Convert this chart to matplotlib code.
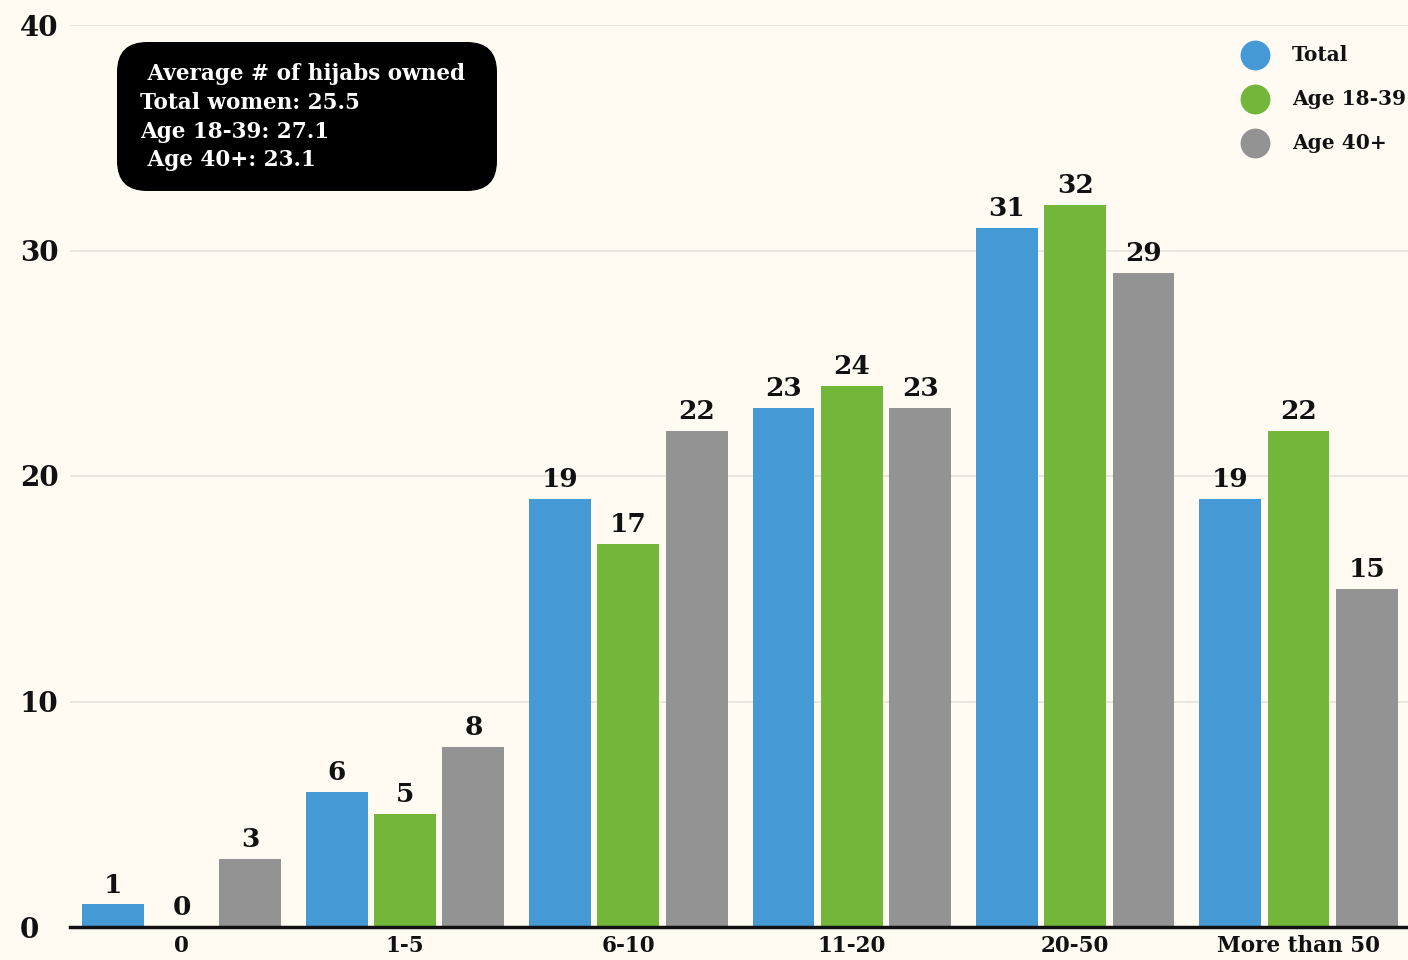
import matplotlib
matplotlib.use("Agg")
import matplotlib.pyplot as plt
from matplotlib.patches import FancyBboxPatch
from matplotlib.lines import Line2D
from matplotlib.transforms import IdentityTransform
import numpy as np

categories = ["0", "1-5", "6-10", "11-20", "20-50", "More than 50"]
series_names = ["Total", "Age 18-39", "Age 40+"]
total = [1, 6, 19, 23, 31, 19]
age_18_39 = [0, 5, 17, 24, 32, 22]
age_40_plus = [3, 8, 22, 23, 29, 15]
yticks = [0, 10, 20, 30, 40]
summary_lines = [" Average # of hijabs owned", "Total women: 25.5",
                 "Age 18-39: 27.1", " Age 40+: 23.1"]

colors = ["#4599d4", "#72b73a", "#939393"]
bg = "#fffaf2"
ink = "#111111"
FONT = "DejaVu Serif"

W, H, DPI = 1408, 960, 100
fig = plt.figure(figsize=(W / DPI, H / DPI), dpi=DPI, facecolor=bg)
ax = fig.add_axes([70 / W, 33 / H, 1 - 70 / W, (927 - 25) / H])
ax.set_facecolor(bg)

x = np.arange(len(categories))
width = 0.277
step = 0.306
for k, vals in enumerate([total, age_18_39, age_40_plus]):
    pos = x + (k - 1) * step
    ax.bar(pos, vals, width=width, color=colors[k], zorder=3)
    for xp, v in zip(pos, vals):
        ax.annotate(f"{v}", (xp, v), xytext=(0, 5), textcoords="offset points",
                    ha="center", va="bottom", fontsize=19, fontweight="bold",
                    family=FONT, color=ink, zorder=4)

ax.set_xlim(-0.5, 5.49)
ax.set_ylim(0, 40)
ax.set_yticks(yticks)
ax.grid(axis="y", color="#e4e2dc", linewidth=1.2, zorder=0)
ax.set_axisbelow(True)
for s in ["top", "right", "left"]:
    ax.spines[s].set_visible(False)
ax.spines["bottom"].set_color(ink)
ax.spines["bottom"].set_linewidth(2.5)
ax.spines["bottom"].set_zorder(5)
ax.tick_params(axis="both", length=0)
ax.set_yticklabels([str(t) for t in yticks], fontsize=20, fontweight="bold",
                   family=FONT, color=ink)
for lab in ax.get_yticklabels():
    lab.set_horizontalalignment("left")
ax.tick_params(axis="y", pad=36)
ax.set_xticks(x)
ax.set_xticklabels(categories, fontsize=15.5, fontweight="bold", family=FONT,
                   color=ink)
ax.tick_params(axis="x", pad=6)

# summary box
box = FancyBboxPatch((117 + 30, 769 + 30), 380 - 60, 149 - 60,
                     boxstyle="round,pad=30", transform=IdentityTransform(),
                     facecolor="black", edgecolor="none", zorder=10)
fig.patches.append(box)
ys = [74, 103, 132, 160]
for line, yy in zip(summary_lines, ys):
    fig.text(140 / W, 1 - yy / H, line, ha="left", va="center", color="white",
             fontsize=15.5, fontweight="bold", family=FONT, zorder=11)

# legend: coloured dots with labels
leg_y = [55, 99, 143]
for c, name, yy in zip(colors, series_names, leg_y):
    fig.add_artist(Line2D([1255 / W], [1 - yy / H], linestyle="none", marker="o",
                          markersize=21.5, markerfacecolor=c,
                          markeredgecolor="none", transform=fig.transFigure))
    fig.text(1292 / W, 1 - yy / H, name, ha="left", va="center", color=ink,
             fontsize=14.5, fontweight="bold", family=FONT)

fig.savefig("out.png", dpi=DPI, facecolor=bg)
